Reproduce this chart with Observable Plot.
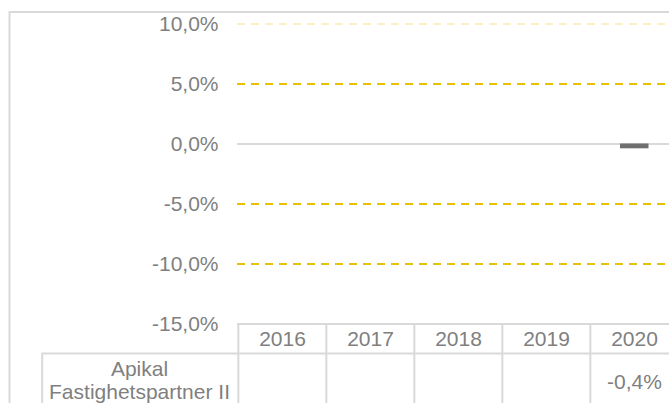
<!DOCTYPE html>
<html>
<head>
<meta charset="utf-8">
<script src="https://cdn.jsdelivr.net/npm/d3@7"></script>
<script src="https://cdn.jsdelivr.net/npm/@observablehq/plot@0.6"></script>
<style>
  html, body { margin: 0; padding: 0; background: #fff; }
  #chart { width: 669px; height: 403px; overflow: hidden; position: relative; }
</style>
</head>
<body>
<div id="chart"></div>
<script>
const years = ["2016", "2017", "2018", "2019", "2020"];
const returns = [null, null, null, null, -0.004];
const seriesName = "Apikal\nFastighetspartner II";
const yTicks = [-0.15, -0.10, -0.05, 0, 0.05, 0.10];
const dashedGrid = [-0.10, -0.05, 0.05];
const paleGrid = [0.10];
const baseLines = [0];
const tableTop = [-0.15];

const rows = years.map((year, i) => ({year, value: returns[i]}));
const fmt = v => d3.format(".1%")(v).replace(".", ",").replace("\u2212", "-");

const gray = "#7f7f7f";
const border = "#d9d9d9";

const plot = Plot.plot({
  width: 680,
  height: 403,
  marginLeft: 237,
  marginRight: 1.5,
  marginTop: 23.5,
  marginBottom: 79.5,
  style: {
    fontFamily: "'Liberation Sans', Arial, sans-serif",
    fontSize: "21px",
    color: gray,
    background: "#fff",
    maxWidth: "none",
    overflow: "visible"
  },
  x: {type: "band", domain: years, padding: 0, label: null},
  y: {domain: [-0.15, 0.10], label: null},
  marks: [
    Plot.frame({stroke: border, strokeWidth: 2, insetLeft: -228, insetTop: -12, insetRight: -20, insetBottom: -100}),
    Plot.ruleY(paleGrid, {stroke: "#fcefc2", strokeWidth: 2, strokeDasharray: "8,6"}),
    Plot.ruleY(dashedGrid, {stroke: "#e8c100", strokeWidth: 2, strokeDasharray: "8,6"}),
    Plot.ruleY(baseLines, {stroke: border, strokeWidth: 2}),
    Plot.ruleY(tableTop, {stroke: border, strokeWidth: 2}),
    Plot.barY(rows.filter(d => d.value != null), {x: "year", y: "value", fill: "#6f6f6f", insetLeft: 30, insetRight: 29.5}),
    Plot.axisY({ticks: yTicks, tickFormat: fmt, tickSize: 0, tickPadding: 19, label: null, fill: gray}),
    Plot.axisX({tickSize: 0, tickPadding: 7, label: null, fill: gray}),
    Plot.axisX({tickSize: 80, tickFormat: () => "", dx: -44.15, stroke: border, strokeWidth: 2, label: null}),
    Plot.frame({stroke: border, strokeWidth: 2, insetLeft: -195.3, insetTop: 329.5, insetRight: -20, insetBottom: -100}),
    Plot.text(rows.filter(d => d.value != null), {x: "year", text: d => fmt(d.value), frameAnchor: "bottom", lineAnchor: "middle", dy: 58, fill: gray}),
    Plot.text([seriesName], {text: d => d, frameAnchor: "bottom-left", lineAnchor: "middle", dx: -98, dy: 56.5, lineHeight: 1.1, textAnchor: "middle", fill: gray})
  ]
});
document.getElementById("chart").appendChild(plot);
</script>
</body>
</html>
